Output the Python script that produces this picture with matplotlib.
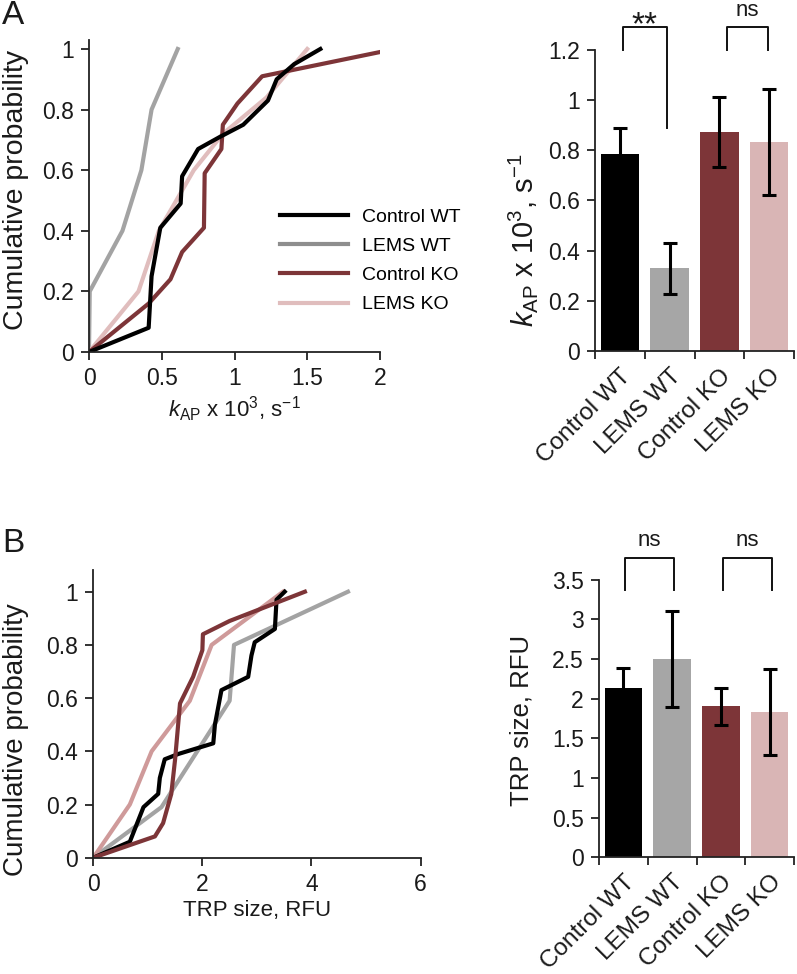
import matplotlib
matplotlib.use("Agg")
import matplotlib.pyplot as plt
from matplotlib.lines import Line2D
from matplotlib.transforms import ScaledTranslation

plt.rcParams['font.family'] = ['Liberation Sans', 'DejaVu Sans']
plt.rcParams['mathtext.fontset'] = 'custom'
plt.rcParams['mathtext.rm'] = 'Liberation Sans'
plt.rcParams['mathtext.it'] = 'Liberation Sans:italic'
plt.rcParams['font.size'] = 14

# ---------------- data ----------------
groups = ["Control WT", "LEMS WT", "Control KO", "LEMS KO"]

# Panel A cumulative curves (k_AP x 10^3, s^-1)
a_ctrl_wt_x = [0, 0.41, 0.43, 0.49, 0.63, 0.64, 0.75, 0.90, 1.06, 1.23, 1.29, 1.41, 1.59]
a_ctrl_wt_y = [0, 0.08, 0.25, 0.41, 0.49, 0.58, 0.67, 0.71, 0.75, 0.83, 0.90, 0.95, 1.0]
a_lems_wt_x = [0, 0.005, 0.23, 0.36, 0.43, 0.61]
a_lems_wt_y = [0, 0.2, 0.4, 0.6, 0.8, 1.0]
a_ctrl_ko_x = [0, 0.41, 0.56, 0.64, 0.79, 0.795, 0.91, 0.92, 1.02, 1.19, 2.0]
a_ctrl_ko_y = [0, 0.16, 0.24, 0.33, 0.41, 0.59, 0.67, 0.75, 0.82, 0.91, 0.99]
a_lems_ko_x = [0, 0.34, 0.48, 0.72, 0.92, 1.22, 1.5]
a_lems_ko_y = [0, 0.2, 0.4, 0.6, 0.72, 0.84, 1.0]

# Panel A bar means / errors
a_means = [0.787, 0.33, 0.872, 0.832]
a_errs = [0.103, 0.102, 0.139, 0.212]

# Panel B cumulative curves (TRP size, RFU)
b_ctrl_wt_x = [0, 0.67, 0.92, 1.19, 1.22, 1.31, 1.56, 2.20, 2.23, 2.35, 2.84, 2.90, 2.96, 3.33, 3.36, 3.51]
b_ctrl_wt_y = [0, 0.06, 0.19, 0.24, 0.30, 0.37, 0.39, 0.43, 0.50, 0.63, 0.68, 0.76, 0.81, 0.86, 0.97, 1.0]
b_lems_wt_x = [0, 1.25, 2.50, 2.58, 4.67]
b_lems_wt_y = [0, 0.19, 0.59, 0.80, 1.0]
b_ctrl_ko_x = [0, 1.13, 1.28, 1.43, 1.50, 1.59, 1.83, 2.00, 2.01, 2.50, 3.88]
b_ctrl_ko_y = [0, 0.08, 0.13, 0.24, 0.37, 0.58, 0.68, 0.78, 0.84, 0.89, 1.0]
b_lems_ko_x = [0, 0.67, 1.07, 1.77, 2.17, 3.48]
b_lems_ko_y = [0, 0.2, 0.4, 0.59, 0.8, 1.0]

# Panel B bar means / errors
b_means = [2.139, 2.496, 1.903, 1.832]
b_errs = [0.243, 0.605, 0.236, 0.537]

a_ytick_vals = [0, 0.2, 0.4, 0.6, 0.8, 1.0]
a_ytick_labels = ["0", "0.2", "0.4", "0.6", "0.8", "1"]
a_xtick_vals = [0, 0.5, 1, 1.5, 2]
a_xtick_labels = ["0", "0.5", "1", "1.5", "2"]
a_bar_ytick_vals = [0, 0.2, 0.4, 0.6, 0.8, 1.0, 1.2]
a_bar_ytick_labels = ["0", "0.2", "0.4", "0.6", "0.8", "1", "1.2"]
b_xtick_vals = [0, 2, 4, 6]
b_xtick_labels = ["0", "2", "4", "6"]
b_bar_ytick_vals = [0, 0.5, 1, 1.5, 2, 2.5, 3, 3.5]
b_bar_ytick_labels = ["0", "0.5", "1", "1.5", "2", "2.5", "3", "3.5"]

sig_a = ["**", "ns"]
sig_b = ["ns", "ns"]

# ---------------- style ----------------
c_black = "#000000"
c_gray_line = "#a3a3a3"
c_gray_leg = "#8e8e8e"
c_gray_bar = "#a6a6a6"
c_red = "#7d3538"
c_pink_a = "#e0bdbd"
c_pink_b = "#cf9a9a"
c_pink_bar = "#d9b5b5"
bar_colors = [c_black, c_gray_bar, c_red, c_pink_bar]
spine_c = "#222222"
text_c = "#1a1a1a"

TICK_FS = 16.5
XLAB_FS = 16
CAT_FS = 17.5

W, H = 797, 974
fig = plt.figure(figsize=(W / 100, H / 100), dpi=100)


def px_axes(x0, x1, ytop, ybot):
    return fig.add_axes([x0 / W, 1 - ybot / H, (x1 - x0) / W, (ybot - ytop) / H])


def style(ax):
    for s in ["top", "right"]:
        ax.spines[s].set_visible(False)
    for s in ["left", "bottom"]:
        ax.spines[s].set_linewidth(1.3)
        ax.spines[s].set_color(spine_c)
    ax.tick_params(direction="out", length=6, width=1.3, color=spine_c,
                   labelsize=TICK_FS, pad=5, labelcolor=text_c)


def place_ylabel(ax, text, fs, xpx, ypx):
    ax.set_ylabel(text, fontsize=fs, color=text_c)
    ax.yaxis.label.set_verticalalignment("center")
    ax.yaxis.set_label_coords(xpx / W, 1 - ypx / H, transform=fig.transFigure)


lw = 3.0

# ---- Panel A left ----
axA = px_axes(89, 380, 352 - 1.03 * 303, 352)
style(axA)
axA.plot(a_lems_wt_x, a_lems_wt_y, color=c_gray_line, lw=lw)
axA.plot(a_lems_ko_x, a_lems_ko_y, color=c_pink_a, lw=lw)
axA.plot(a_ctrl_ko_x, a_ctrl_ko_y, color=c_red, lw=lw)
axA.plot(a_ctrl_wt_x, a_ctrl_wt_y, color=c_black, lw=lw)
axA.set_xlim(0, 2)
axA.set_ylim(0, 1.03)
axA.set_xticks(a_xtick_vals)
axA.set_xticklabels(a_xtick_labels)
axA.set_yticks(a_ytick_vals)
axA.set_yticklabels(a_ytick_labels)
place_ylabel(axA, "Cumulative probability", 20.5, 16, 190)
axA.set_xlabel(r"$k_{\mathrm{AP}}$ x 10$^{3}$, s$^{-1}$", fontsize=XLAB_FS,
               labelpad=3, color=text_c)
handles = [Line2D([], [], color=c, lw=lw) for c in [c_black, c_gray_leg, c_red, c_pink_a]]
axA.legend(handles, groups, loc="upper left",
           bbox_to_anchor=(280 / W, 1 - 208 / H), bbox_transform=fig.transFigure,
           frameon=False, fontsize=14, handlelength=3.5, handletextpad=0.7,
           labelspacing=0.6, borderpad=0, borderaxespad=0)


def bar_panel(ax, means, errs, ymax, yvals, ylabels, sig, bracket_top, legs, text_specs):
    style(ax)
    x = list(range(len(groups)))
    ax.bar(x, means, width=0.77, color=bar_colors, zorder=2)
    ax.errorbar(x, means, yerr=errs, fmt="none", ecolor="black", elinewidth=2.2,
                capsize=5, capthick=2.2, zorder=3)
    ax.set_xlim(-0.5, 3.5)
    ax.set_ylim(0, ymax)
    ax.set_yticks(yvals)
    ax.set_yticklabels(ylabels)
    ax.set_xticks(x)
    ax.set_xticklabels(groups, rotation=45, ha="right", va="top",
                       rotation_mode="anchor", fontsize=CAT_FS)
    off = ScaledTranslation(7 / 100, 0, fig.dpi_scale_trans)
    for lab in ax.get_xticklabels():
        lab.set_transform(lab.get_transform() + off)
    ax.tick_params(axis="x", which="major", length=0, pad=10)
    ax.set_xticks([-0.5, 0.5, 1.5, 2.5, 3.5], minor=True)
    ax.tick_params(axis="x", which="minor", length=6, width=1.3, color=spine_c)
    for (xl, xr, yl, yr), s, (ty, fs) in zip(legs, sig, text_specs):
        ax.plot([xl, xl, xr, xr], [yl, bracket_top, bracket_top, yr], color="#111111",
                lw=1.4, clip_on=False)
        ax.text((xl + xr) / 2, ty, s, ha="center", va="baseline",
                fontsize=fs, color=text_c, clip_on=False)


# ---- Panel A bars ----
axAb = px_axes(595, 794, 50, 351)
bar_panel(axAb, a_means, a_errs, 1.2, a_bar_ytick_vals, a_bar_ytick_labels,
          sig_a, 1.293, [(0.06, 0.94, 1.2, 0.89), (2.15, 2.98, 1.2, 1.2)],
          [(1.262, 24), (1.335, 16)])
place_ylabel(axAb, r"$k_{\mathrm{AP}}$ x 10$^{3}$, s$^{-1}$", 21, 523, 240)

# ---- Panel B left ----
axB = px_axes(93.3, 420.5, 857.7 - 1.08 * 266, 857.7)
style(axB)
axB.plot(b_lems_wt_x, b_lems_wt_y, color=c_gray_line, lw=lw)
axB.plot(b_lems_ko_x, b_lems_ko_y, color=c_pink_b, lw=lw)
axB.plot(b_ctrl_wt_x, b_ctrl_wt_y, color=c_black, lw=lw)
axB.plot(b_ctrl_ko_x, b_ctrl_ko_y, color=c_red, lw=lw)
axB.set_xlim(0, 6)
axB.set_ylim(0, 1.08)
axB.set_xticks(b_xtick_vals)
axB.set_xticklabels(b_xtick_labels)
axB.set_yticks(a_ytick_vals)
axB.set_yticklabels(a_ytick_labels)
place_ylabel(axB, "Cumulative probability", 20, 16, 740)
axB.set_xlabel("TRP size, RFU", fontsize=XLAB_FS, labelpad=3, color=text_c)

# ---- Panel B bars ----
axBb = px_axes(599, 794, 579.7, 857.3)
bar_panel(axBb, b_means, b_errs, 3.5, b_bar_ytick_vals, b_bar_ytick_labels,
          sig_b, 3.77, [(0.03, 1.03, 3.37, 3.37), (2.04, 3.04, 3.37, 3.37)],
          [(3.92, 16), (3.92, 16)])
place_ylabel(axBb, "TRP size, RFU", 18.5, 521, 720)

fig.text(13 / W, 1 - 15 / H, "A", fontsize=24, ha="center", va="center", color=text_c)
fig.text(13 / W, 1 - 543 / H, "B", fontsize=24, ha="center", va="center", color=text_c)

fig.savefig("out.png", dpi=100)
